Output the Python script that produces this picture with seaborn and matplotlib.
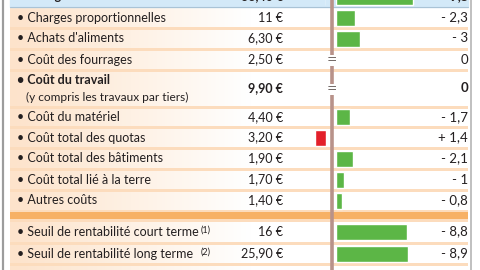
import numpy as np
import matplotlib.pyplot as plt
import seaborn as sns
from matplotlib.colors import LinearSegmentedColormap

# values (costs per 1000 l, change vs previous year)
labels = ["Charges totales", "Charges proportionnelles", "Achats d'aliments",
          "Coût des fourrages", "Coût du travail", "Coût du matériel",
          "Coût total des quotas", "Coût total des bâtiments",
          "Coût total lié à la terre", "Autres coûts",
          "Seuil de rentabilité court terme", "Seuil de rentabilité long terme",
          "Coût de revient"]
costs = ["33,40 €", "11 €", "6,30 €", "2,50 €", "9,90 €", "4,40 €", "3,20 €",
         "1,90 €", "1,70 €", "1,40 €", "16 €", "25,90 €", ""]
diffs = [-9.5, -2.3, -3, 0, 0, -1.7, 1.4, -2.1, -1, -0.8, -8.8, -8.9, np.nan]
notes = ["", "", "", "", "", "", "", "", "", "", "(1)", "(2)", ""]
sublabel = "(y compris les travaux par tiers)"

# row heights in pixels (layout only)
row_h = [21, 21, 21, 21, 37, 20, 21, 21, 21, 21, 23, 21, 21]
band_after = 9
band_h = 9

sns.set_theme(style="white")
plt.rcParams['font.family'] = ['Lato', 'DejaVu Sans']

ink = "#231f20"
peach = "#fcdcbd"
orange = "#f7b165"
green = "#5cb646"
red = "#e3202a"
mauve = "#b8928a"

# row tops / centers
tops = []
y = -14
for i, h in enumerate(row_h):
    tops.append(y)
    y += h
    if i == band_after:
        band_top = y
        y += band_h
tops = np.array(tops, dtype=float)
heights = np.array(row_h, dtype=float)
centers = tops + heights / 2

fig = plt.figure(figsize=(4.8, 2.7), dpi=100)
bg = fig.add_axes([0, 0, 1, 1])
bg.set_xlim(0, 480)
bg.set_ylim(270, 0)
bg.axis("off")

# row backgrounds: peach fading to white
cmap = LinearSegmentedColormap.from_list("pw", ["#fde3cb", "#fef1e4", "#ffffff"])
grad = np.linspace(0, 1, 256)[None, :]
grad = np.clip(grad * 1.9, 0, 1)
bg.imshow(grad, cmap=cmap, extent=(10, 468, 290, 7), aspect="auto", zorder=0)

# header
bg.fill_between([10, 468], tops[0], tops[0] + heights[0], color="#d3e9f8", zorder=1)
bg.plot([10, 468], [tops[0] + heights[0]] * 2, color="#a9c3d6", lw=0.8, zorder=2)

# separators
for t in tops[2:]:
    bg.fill_between([10, 468], t - 1.5, t + 1.5, color=peach, lw=0, zorder=1)
bg.fill_between([10, 468], band_top - 1, band_top + band_h + 1, color=peach, lw=0, zorder=1)
bg.fill_between([10, 468], band_top + 1, band_top + band_h - 1, color=orange, lw=0, zorder=1)

# frame
bg.plot([2.5, 2.5], [0, 270], color="#9c9c9c", lw=1.6, zorder=3)
bg.plot([471, 471], [0, 270], color="#b5b5b5", lw=1.2, zorder=3)

# central axis line, broken where the change is zero
zero_rows = [i for i, d in enumerate(diffs) if d == 0]
segs = [-20]
for i in zero_rows:
    segs += [centers[i] - 5, centers[i] + 6]
segs.append(290)
for a, b in zip(segs[::2], segs[1::2]):
    bg.plot([331.5, 331.5], [a, b], color=mauve, lw=2.6, solid_capstyle="butt", zorder=2)
for i in zero_rows:
    bg.text(332, centers[i] + 0.5, "=", ha="center", va="center", fontsize=9,
            family="DejaVu Sans", color="#6f6562", zorder=3)

# texts
fs = 9
for i, lab in enumerate(labels):
    cy = centers[i]
    bold = i in (0, 4)
    if i == len(labels) - 1:
        cy += 4
    if i == 0:
        bg.text(28, cy, lab, ha="left", va="center", fontsize=fs, fontweight="bold", color=ink)
    elif i == 4:
        bg.text(17, cy - 8.5, "• " + lab, ha="left", va="center", fontsize=fs,
                fontweight="bold", color=ink)
        bg.text(26, cy + 9, sublabel, ha="left", va="center", fontsize=8.6, color=ink)
    else:
        bg.text(17, cy, "• " + lab, ha="left", va="center", fontsize=fs, color=ink)
        if notes[i]:
            bg.text(201, cy - 1, notes[i], ha="left", va="center", fontsize=6.5, color=ink)
    if costs[i]:
        bg.text(283, cy, costs[i], ha="right", va="center", fontsize=fs,
                fontweight="bold" if bold else "normal", color=ink)
    d = diffs[i]
    if not np.isnan(d):
        if d == 0:
            s = "0"
        else:
            s = ("+ " if d > 0 else "- ") + f"{abs(d):g}".replace(".", ",")
        bg.text(468, cy, s, ha="right", va="center", fontsize=fs + 0.5,
                fontweight="bold" if bold else "normal", color=ink)

# bars: decreases to the right of the axis line, increases to the left
px_per_unit = 8.1
ok = ~np.isnan(np.array(diffs, dtype=float))
d_arr = np.array(diffs, dtype=float)[ok]
c_arr = centers[ok]
dec = np.where(d_arr < 0, -d_arr, 0.0)
inc = np.where(d_arr > 0, d_arr, 0.0)
bar_w = 16 / 20.5

ax_g = fig.add_axes([336 / 480, 0, 134 / 480, 1])
sns.barplot(x=dec, y=c_arr, orient="h", native_scale=True, color=green,
            saturation=1, width=bar_w, errorbar=None, ax=ax_g)
ax_g.set_xlim(0, 134 / px_per_unit)
ax_g.set_ylim(270, 0)
ax_g.axis("off")
ax_g.patch.set_alpha(0)

ax_r = fig.add_axes([200 / 480, 0, 126 / 480, 1])
sns.barplot(x=inc, y=c_arr, orient="h", native_scale=True, color=red,
            saturation=1, width=bar_w, errorbar=None, ax=ax_r)
ax_r.set_xlim(126 / px_per_unit, 0)
ax_r.set_ylim(270, 0)
ax_r.axis("off")
ax_r.patch.set_alpha(0)

fig.savefig("out.png", dpi=100)
